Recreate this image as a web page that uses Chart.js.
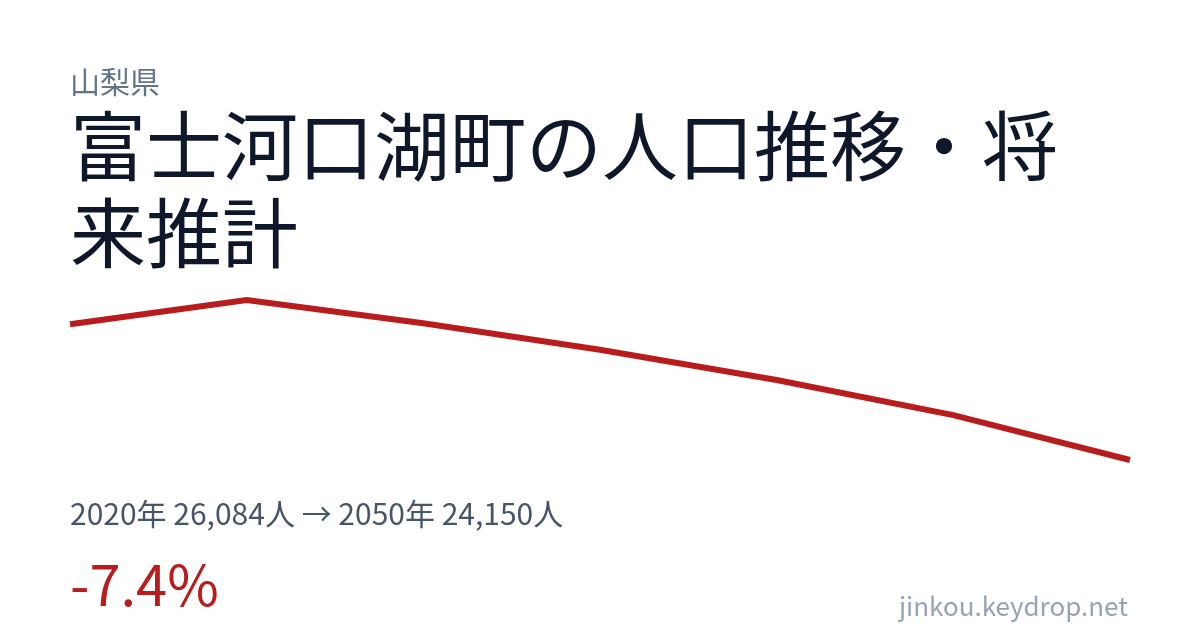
<!DOCTYPE html>
<html lang="ja">
<head>
<meta charset="utf-8">
<script src="https://cdn.jsdelivr.net/npm/chart.js@4/dist/chart.umd.min.js"></script>
<style>
  html, body { margin: 0; padding: 0; background: #fff; }
  body { width: 1200px; height: 630px; position: relative; overflow: hidden;
         font-family: "Noto Sans CJK JP", "Noto Sans", sans-serif; }
  #chart { position: absolute; left: 0; top: 0; }
  .txt { position: absolute; white-space: nowrap; line-height: 1; }
  #pref { left: 70px; top: 65px; font-size: 30px; color: #64748b; }
  #title { left: 70px; top: 99px; width: 1060px; font-size: 76px; line-height: 87px;
           color: #0f172a; white-space: normal; }
  #summary { left: 70px; top: 497px; font-size: 30px; color: #475569; }
  #change { left: 70px; top: 554px; font-size: 56px; color: #b91c1c; }
  #site { right: 72px; top: 592px; font-size: 26px; color: #94a3b8; }
</style>
</head>
<body>
<canvas id="chart" width="1200" height="630"></canvas>
<div class="txt" id="pref">山梨県</div>
<div class="txt" id="title">富士河口湖町の人口推移・将来推計</div>
<div class="txt" id="summary">2020年 26,084人 → 2050年 24,150人</div>
<div class="txt" id="change">-7.4%</div>
<div class="txt" id="site">jinkou.keydrop.net</div>
<script>
var years = ['2020', '2025', '2030', '2035', '2040', '2045', '2050'];
var population = [26084, 26430, 26100, 25720, 25290, 24790, 24150];

var ctx = document.getElementById('chart').getContext('2d');
var popChart = new Chart(ctx, {
    type: 'line',
    data: {
        labels: years,
        datasets: [{
            data: population,
            borderColor: '#b91c1c',
            borderWidth: 6,
            pointRadius: 0,
            fill: false,
            tension: 0,
            clip: false
        }]
    },
    options: {
        responsive: false,
        animation: false,
        devicePixelRatio: 1,
        layout: {
            padding: { left: 70, right: 70, top: 300, bottom: 170 }
        },
        scales: {
            x: { display: false },
            y: {
                display: false,
                min: Math.min.apply(null, population),
                max: Math.max.apply(null, population)
            }
        },
        plugins: {
            legend: { display: false },
            tooltip: { enabled: false }
        }
    }
});
</script>
</body>
</html>
